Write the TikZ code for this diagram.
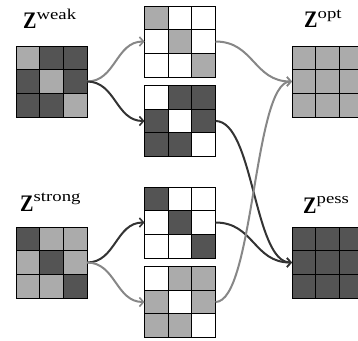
\documentclass[tikz,border=0pt]{standalone}
\usepackage{fontspec}
\setmainfont{Liberation Serif}
\usetikzlibrary{arrows.meta,calc}
\definecolor{dk}{gray}{0.33}
\definecolor{lt}{gray}{0.67}
\definecolor{adk}{gray}{0.2}
\definecolor{alt}{gray}{0.53}
\newcommand\gridat[4]{%
  \foreach \c [count=\i from 0] in {#4} {
    \pgfmathtruncatemacro\rr{int(\i/3)}
    \pgfmathtruncatemacro\qq{mod(\i,3)}
    \filldraw[fill=\c, cellline] ({#2-35.5+\qq*23.667},{#3-35.5+\rr*23.667}) rectangle ++(23.667,23.667);
  }
  \node[gridbox] (#1) at (#2,#3) {};
}
\tikzset{
  cellline/.style={draw=black, line width=0.8pt},
  gridbox/.style={draw=black, line width=0.8pt, minimum width=71pt, minimum height=71pt, inner sep=0pt, outer sep=0pt},
  halfspan/.style={to path={let \p1=(\tikztostart), \p2=(\tikztotarget) in
     .. controls ({(\x1+\x2)/2},\y1) and ({(\x1+\x2)/2},\y2) .. (\tikztotarget) \tikztonodes}},
  conn/.style={line width=2pt, -{Straight Barb[length=4pt,width=9pt,line width=1.6pt]}, halfspan},
  garrow/.style={conn, draw=alt},
  darrow/.style={conn, draw=adk},
  zlabel/.style={anchor=base west, inner sep=0pt}
}
\newcommand\zlab[2]{\scalebox{0.85}[1]{\fontsize{23.7}{24}\selectfont\bfseries Z}\raisebox{#2}{\scalebox{1.25}[1]{\fontsize{15}{15}\selectfont #1}}}
\begin{document}
\begin{tikzpicture}[x=1pt,y=-1pt]
\useasboundingbox (0,0) rectangle (358,340);
\gridat{weak}{51.5}{81.5}{lt,dk,dk,dk,lt,dk,dk,dk,lt}
\gridat{strong}{51.5}{262.5}{dk,lt,lt,lt,dk,lt,lt,lt,dk}
\gridat{m1}{180}{41.5}{lt,white,white,white,lt,white,white,white,lt}
\gridat{m2}{180}{121}{white,dk,dk,dk,white,dk,dk,dk,white}
\gridat{m3}{180}{222.5}{dk,white,white,white,dk,white,white,white,dk}
\gridat{m4}{180}{302}{white,lt,lt,lt,white,lt,lt,lt,white}
\gridat{opt}{327.5}{81.5}{lt,lt,lt,lt,lt,lt,lt,lt,lt}
\gridat{pess}{327.5}{262.5}{dk,dk,dk,dk,dk,dk,dk,dk,dk}
\node[zlabel] (lw) at (23,28.3) {\zlab{weak}{9pt}};
\node[zlabel] (lo) at (304,27) {\zlab{opt}{9pt}};
\node[zlabel] (ls) at (20,211.7) {\zlab{strong}{10pt}};
\node[zlabel] (lp) at (303,213) {\zlab{pess}{9.5pt}};
\draw[garrow] (weak.east) to (m1.west);
\draw[darrow] (weak.east) to (m2.west);
\draw[darrow] (strong.east) to (m3.west);
\draw[garrow] (strong.east) to (m4.west);
\draw[garrow] (m1.east) to (opt.west);
\draw[darrow] (m2.east) to (pess.west);
\draw[darrow] (m3.east) to (pess.west);
\draw[garrow] (m4.east) to (opt.west);
\end{tikzpicture}
\end{document}
